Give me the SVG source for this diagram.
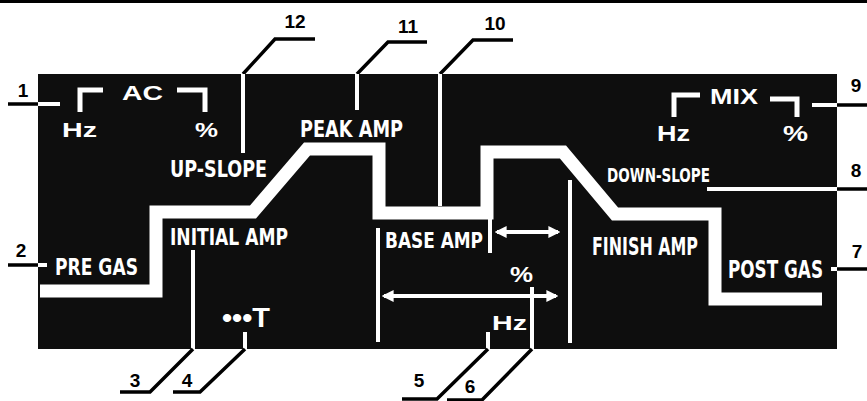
<svg xmlns="http://www.w3.org/2000/svg" width="867" height="401" viewBox="0 0 867 401">
<defs>
<marker id="ah" viewBox="0 0 10 10" refX="8" refY="5" markerWidth="12" markerHeight="12" markerUnits="userSpaceOnUse" orient="auto-start-reverse">
<path d="M0,0 L10,5 L0,10 Z" fill="#ffffff"/>
</marker>
</defs>
<style>
.lbl{fill:#ffffff;font-family:"Liberation Sans Narrow","DejaVu Sans Condensed","Liberation Sans",sans-serif;font-weight:bold}
.wide{fill:#ffffff;font-family:"Liberation Sans","DejaVu Sans",sans-serif;font-weight:bold}
.num{fill:#000000;font-family:"Liberation Sans","DejaVu Sans",sans-serif;font-weight:bold;font-size:19px;text-anchor:middle}
.blk{stroke:#000000;stroke-width:3.5;fill:none;stroke-linejoin:miter}
.wht{stroke:#ffffff;stroke-width:4;fill:none;stroke-linecap:butt}
.wave{stroke:#ffffff;stroke-width:13;fill:none;stroke-linejoin:miter;stroke-miterlimit:10}
.brk{stroke:#ffffff;stroke-width:5;fill:none;stroke-linejoin:miter}
.arr{stroke:#ffffff;stroke-width:4;fill:none}
</style>
<rect x="0" y="0" width="867" height="401" fill="#ffffff"/>
<rect x="0" y="0" width="867" height="3" fill="#000000"/>
<g id="panel">
<rect x="38" y="74" width="799" height="275" fill="#0e0e0e"/>
</g>
<g id="waveform">
<path class="wave" d="M40,291 H156 V212 H253 L307,149 H379 V213 H487 V152 H563 L615,214 H715 V299 H822"/>
</g>
<g id="connectors">
<path class="blk" d="M8,104 H38"/>
<path class="wht" d="M38,104 H60"/>
<path class="blk" d="M8,265 H38"/>
<path class="wht" d="M38,265 H47"/>
<path class="blk" d="M315,39 H275 L243,74"/>
<path class="wht" d="M243,74 V153"/>
<path class="blk" d="M427,42 H388 L357,74"/>
<path class="wht" d="M357,74 V110"/>
<path class="blk" d="M513,40 H473 L440,74"/>
<path class="wht" d="M440,74 V206"/>
<path class="wht" d="M812,105 H837"/>
<path class="blk" d="M837,105 H867"/>
<path class="wht" d="M707,189 H837"/>
<path class="blk" d="M837,189 H867"/>
<path class="wht" d="M831,269 H837"/>
<path class="blk" d="M837,269 H867"/>
<path class="wht" d="M193,250 V349"/>
<path class="blk" d="M120,392 H150 L193,349"/>
<path class="wht" d="M245,332 V349"/>
<path class="blk" d="M173,392 H200 L245,349"/>
<path class="wht" d="M488,332 V349"/>
<path class="blk" d="M402,399 H437 L488,349"/>
<path class="wht" d="M532,287 V349"/>
<path class="blk" d="M447,400 H482 L532,349"/>
<path class="wht" d="M378,228 V342"/>
<path class="wht" d="M490,213 V253"/>
<path class="wht" d="M570,180 V343"/>
<path class="arr" d="M497,232 H558" marker-start="url(#ah)" marker-end="url(#ah)"/>
<path class="arr" d="M384,296 H556" marker-start="url(#ah)" marker-end="url(#ah)"/>
</g>
<g id="ac-group">
<path class="brk" d="M80,112 V90 H103"/>
<path class="brk" d="M177,90 H205 V112"/>
<text class="wide" x="122" y="100" font-size="20" textLength="41" lengthAdjust="spacingAndGlyphs">AC</text>
<text class="wide" x="62" y="137" font-size="20" textLength="35" lengthAdjust="spacingAndGlyphs">Hz</text>
<text class="wide" x="195" y="137" font-size="21" textLength="23" lengthAdjust="spacingAndGlyphs">%</text>
</g>
<g id="mix-group">
<path class="brk" d="M674,117 V95 H700"/>
<path class="brk" d="M770,99 H797 V117"/>
<text class="wide" x="710" y="104" font-size="22" textLength="48" lengthAdjust="spacingAndGlyphs">MIX</text>
<text class="wide" x="657" y="141" font-size="22" textLength="33" lengthAdjust="spacingAndGlyphs">Hz</text>
<text class="wide" x="783" y="141" font-size="22" textLength="25" lengthAdjust="spacingAndGlyphs">%</text>
</g>
<g id="up-slope"><text class="lbl" x="170" y="177" font-size="23" textLength="97" lengthAdjust="spacingAndGlyphs">UP-SLOPE</text></g>
<g id="peak-amp"><text class="lbl" x="300" y="137" font-size="23" textLength="103" lengthAdjust="spacingAndGlyphs">PEAK AMP</text></g>
<g id="down-slope"><text class="lbl" x="607" y="182" font-size="19" textLength="103" lengthAdjust="spacingAndGlyphs">DOWN-SLOPE</text></g>
<g id="pre-gas"><text class="lbl" x="55" y="275" font-size="23" textLength="83" lengthAdjust="spacingAndGlyphs">PRE GAS</text></g>
<g id="initial-amp"><text class="lbl" x="170" y="245" font-size="23" textLength="118" lengthAdjust="spacingAndGlyphs">INITIAL AMP</text></g>
<g id="time"><text class="wide" x="222" y="327" font-size="27" textLength="48" lengthAdjust="spacingAndGlyphs">•••T</text></g>
<g id="base-amp"><text class="lbl" x="385" y="248" font-size="22" textLength="98" lengthAdjust="spacingAndGlyphs">BASE AMP</text></g>
<g id="pulse-pct"><text class="wide" x="510" y="282" font-size="22" textLength="23" lengthAdjust="spacingAndGlyphs">%</text></g>
<g id="pulse-hz"><text class="wide" x="492" y="330" font-size="20" textLength="35" lengthAdjust="spacingAndGlyphs">Hz</text></g>
<g id="finish-amp"><text class="lbl" x="592" y="255" font-size="24" textLength="106" lengthAdjust="spacingAndGlyphs">FINISH AMP</text></g>
<g id="post-gas"><text class="lbl" x="728" y="278" font-size="24" textLength="95" lengthAdjust="spacingAndGlyphs">POST GAS</text></g>
<g id="numbers">
<text class="num" x="23" y="97">1</text>
<text class="num" x="21" y="257">2</text>
<text class="num" x="135" y="387">3</text>
<text class="num" x="187" y="387">4</text>
<text class="num" x="419" y="387">5</text>
<text class="num" x="470" y="393">6</text>
<text class="num" x="857" y="258">7</text>
<text class="num" x="856" y="177">8</text>
<text class="num" x="856" y="92">9</text>
<text class="num" x="495" y="30">10</text>
<text class="num" x="408" y="33">11</text>
<text class="num" x="295" y="28">12</text>
</g>
</svg>
